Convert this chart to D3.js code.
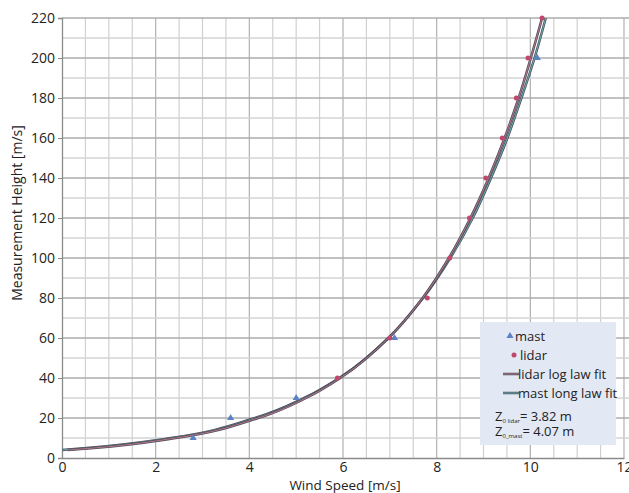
<!DOCTYPE html>
<html>
<head>
<meta charset="utf-8">
<script src="https://cdn.jsdelivr.net/npm/d3@7"></script>
<style>
  body { margin: 0; background: #fff; }
  text { font-family: "Open Sans", "Noto Sans", sans-serif; fill: #222; }
</style>
</head>
<body>
<div id="chart"></div>
<script>
// measured points (wind speed, height)
var mastSpeed  = [2.8, 3.6, 5.0, 7.1, 10.15];
var mastHeight = [10, 20, 30, 60, 200];
var lidarSpeed  = [5.88, 7.0, 7.8, 8.28, 8.7, 9.05, 9.4, 9.7, 9.95, 10.25];
var lidarHeight = [40, 60, 80, 100, 120, 140, 160, 180, 200, 220];

// fitted curves
var fitHeight = [4, 5, 10, 20, 30, 40, 60, 80, 100, 120, 140, 160, 180, 200, 220];
var lidarFitSpeed = [0.12, 0.68, 2.43, 4.19, 5.21, 5.94, 6.97, 7.70, 8.26, 8.72, 9.11, 9.45, 9.75, 10.01, 10.25];
var mastFitSpeed  = [0.0, 0.53, 2.33, 4.12, 5.17, 5.92, 6.97, 7.71, 8.29, 8.77, 9.16, 9.51, 9.81, 10.09, 10.33];

var xTicks = [0, 2, 4, 6, 8, 10, 12];
var yTicks = [0, 20, 40, 60, 80, 100, 120, 140, 160, 180, 200, 220];

var width = 629, height = 493;
var plotLeft = 62, plotRight = 624, plotTop = 18, plotBottom = 458;

var svg = d3.select("#chart").append("svg")
    .attr("width", width)
    .attr("height", height);

var x = d3.scaleLinear().domain([0, 12]).range([plotLeft, plotRight]);
var y = d3.scaleLinear().domain([0, 220]).range([plotBottom, plotTop]);

// grid: vertical every 0.5, horizontal every 10
var g = svg.append("g");
g.selectAll("line.vx")
    .data(d3.range(0.5, 12.01, 0.5))
    .enter().append("line")
      .attr("x1", d => x(d)).attr("x2", d => x(d))
      .attr("y1", plotTop).attr("y2", plotBottom)
      .attr("stroke", d => d % 2 === 0 ? "#b0b0b0" : "#d0d0d0")
      .attr("stroke-width", 1.2);
g.selectAll("line.hy")
    .data(d3.range(10, 220.1, 10))
    .enter().append("line")
      .attr("x1", plotLeft).attr("x2", width)
      .attr("y1", d => y(d)).attr("y2", d => y(d))
      .attr("stroke", d => d % 20 === 0 ? "#acacac" : "#d4d4d4")
      .attr("stroke-width", 1.3);

// axes
var xAxis = svg.append("g")
    .attr("transform", "translate(0," + plotBottom + ")")
    .call(d3.axisBottom(x).tickValues(xTicks).tickSize(0).tickPadding(4));
var yAxis = svg.append("g")
    .attr("transform", "translate(" + plotLeft + ",0)")
    .call(d3.axisLeft(y).tickValues(yTicks).tickSize(4).tickPadding(3));
[xAxis, yAxis].forEach(function(a) {
  a.selectAll("path").attr("stroke", "#8a8a8a").attr("stroke-width", 1.3);
  a.selectAll("line").attr("stroke", "#8a8a8a");
  a.selectAll("text").style("font-size", "14px").attr("fill", "#222")
    .style("font-family", "'Open Sans', 'Noto Sans', sans-serif");
});

svg.append("text")
    .attr("x", 345).attr("y", 490)
    .attr("text-anchor", "middle")
    .style("font-size", "13.5px")
    .text("Wind Speed [m/s]");
svg.append("text")
    .attr("transform", "translate(22,213) rotate(-90)")
    .attr("text-anchor", "middle")
    .style("font-size", "14px")
    .text("Measurement Height [m/s]");

// fit lines
var line = d3.line().curve(d3.curveMonotoneY);
function fitPath(speeds, color) {
  var pts = speeds.map((s, i) => [x(s), y(fitHeight[i])]);
  svg.append("path").attr("d", line(pts))
     .attr("fill", "none").attr("stroke", "#4e505c").attr("stroke-width", 2.5);
  svg.append("path").attr("d", line(pts))
     .attr("fill", "none").attr("stroke", color).attr("stroke-width", 0.9);
}
fitPath(mastFitSpeed, "#6cb6bc");
fitPath(lidarFitSpeed, "#c47a8e");

// markers
var tri = d3.symbol().type(d3.symbolTriangle).size(22);
svg.selectAll("path.mast")
    .data(mastSpeed)
    .enter().append("path")
      .attr("d", tri)
      .attr("transform", (d, i) => "translate(" + x(d) + "," + y(mastHeight[i]) + ")")
      .attr("fill", "#5a82c4");
svg.selectAll("circle.lidar")
    .data(lidarSpeed)
    .enter().append("circle")
      .attr("cx", d => x(d))
      .attr("cy", (d, i) => y(lidarHeight[i]))
      .attr("r", 2.5)
      .attr("fill", "#c2476c");

// legend
var lg = svg.append("g");
lg.append("rect")
    .attr("x", 480).attr("y", 322).attr("width", 136).attr("height", 123)
    .attr("fill", "#e2e9f5");
lg.append("path").attr("d", tri)
    .attr("transform", "translate(510,336)").attr("fill", "#5a82c4");
lg.append("text").attr("x", 515).attr("y", 341).style("font-size", "13px").text("mast");
lg.append("circle").attr("cx", 514).attr("cy", 355).attr("r", 2.5).attr("fill", "#c2476c");
lg.append("text").attr("x", 520).attr("y", 360).style("font-size", "13px").text("lidar");
[["lidar log law fit", 374, "#c47a8e"], ["mast long law fit", 393, "#6cb6bc"]].forEach(function(e) {
  lg.append("line").attr("x1", 503).attr("x2", 519).attr("y1", e[1]).attr("y2", e[1])
    .attr("stroke", "#4e505c").attr("stroke-width", 2.5);
  lg.append("line").attr("x1", 503).attr("x2", 519).attr("y1", e[1]).attr("y2", e[1])
    .attr("stroke", e[2]).attr("stroke-width", 0.9);
  lg.append("text").attr("x", 518).attr("y", e[1] + 5).style("font-size", "13px").text(e[0]);
});
var z1 = lg.append("text").attr("x", 495).attr("y", 421).style("font-size", "13px");
z1.append("tspan").text("Z");
z1.append("tspan").attr("dy", 2).style("font-size", "6px").text("0 lidar");
z1.append("tspan").attr("dy", -2).text("= 3.82 m");
var z2 = lg.append("text").attr("x", 495).attr("y", 436).style("font-size", "13px");
z2.append("tspan").text("Z");
z2.append("tspan").attr("dy", 2).style("font-size", "6px").text("0_mast");
z2.append("tspan").attr("dy", -2).text("= 4.07 m");
</script>
</body>
</html>
